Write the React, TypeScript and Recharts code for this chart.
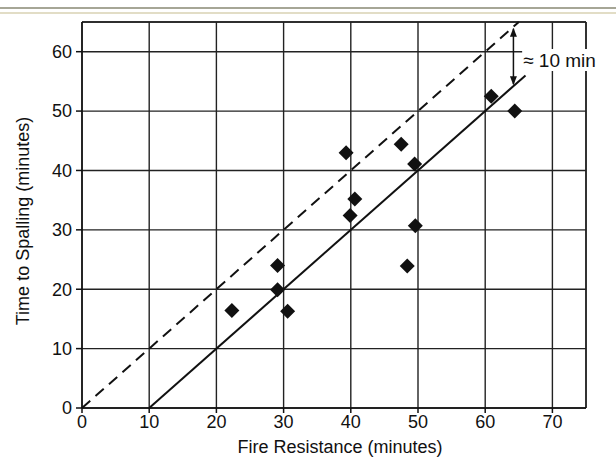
import React from 'react';
import {
  ScatterChart,
  Scatter,
  XAxis,
  YAxis,
  CartesianGrid,
  ReferenceLine,
  ReferenceDot,
} from 'recharts';

// Fire resistance (minutes) vs time to spalling (minutes)
const fireResistance = [22.3, 29.1, 29.1, 30.6, 39.3, 39.9, 40.6, 47.5, 49.5, 49.6, 48.4, 60.9, 64.4];
const timeToSpalling = [16.4, 24.0, 19.9, 16.3, 43.0, 32.4, 35.2, 44.4, 41.1, 30.7, 23.9, 52.5, 50.0];

const xTicks = [0, 10, 20, 30, 40, 50, 60, 70];
const yTicks = [0, 10, 20, 30, 40, 50, 60];
const xDomain = [0, 75];
const yDomain = [0, 65];

// reference lines: y = x (dashed) and y = x - 10 (solid)
const dashedLine = [
  { x: 0, y: 0 },
  { x: 65, y: 65 },
];
const solidLine = [
  { x: 10, y: 0 },
  { x: 66, y: 56 },
];
const arrowLine = [
  { x: 64.2, y: 64.2 },
  { x: 64.2, y: 54.2 },
];
const annotation = { x: 65.2, y: 58.6, text: '≈ 10 min' };

const xLabel = 'Fire Resistance (minutes)';
const yLabel = 'Time to Spalling (minutes)';

const points = fireResistance.map((x, i) => ({ x, y: timeToSpalling[i] }));

const FONT = '"Liberation Sans", Arial, Helvetica, sans-serif';
const INK = '#111';

const Diamond = (props: any) => {
  const { cx, cy } = props;
  const s = 7.5;
  return (
    <polygon
      points={`${cx},${cy - s} ${cx + s},${cy} ${cx},${cy + s} ${cx - s},${cy}`}
      fill={INK}
    />
  );
};

const ArrowShape = (props: any) => {
  const { x1, y1, x2, y2 } = props;
  const top = Math.min(y1, y2);
  const bot = Math.max(y1, y2);
  const x = x1;
  const h = 10;
  const w = 3.5;
  return (
    <g>
      <line x1={x} y1={top + 2} x2={x2} y2={bot - 2} stroke={INK} strokeWidth={1.5} />
      <polygon points={`${x},${top + 1} ${x - w},${top + h} ${x + w},${top + h}`} fill={INK} />
      <polygon points={`${x},${bot - 1} ${x - w},${bot - h} ${x + w},${bot - h}`} fill={INK} />
    </g>
  );
};

const AnnotationLabel = (p: any) => {
  const vb = p.viewBox || {};
  const x = vb.x + (vb.width || 0) + 3;
  const y = vb.y + (vb.height || 0) / 2;
  return (
    <g>
      <rect x={x - 1} y={y - 11} width={78} height={22} fill="#fff" />
      <text
        x={x}
        y={y}
        dominantBaseline="central"
        fontSize={19}
        fontFamily={FONT}
        fill={INK}
      >
        {annotation.text}
      </text>
    </g>
  );
};

export default function App() {
  return (
    <div style={{ position: 'absolute', left: 0, top: 0, width: 616, height: 466, background: '#fff' }}>
      <div style={{ position: 'absolute', left: 0, top: 7, width: 616, height: 2, background: '#a6a696' }} />
      <div style={{ position: 'absolute', left: 0, top: 12, width: 616, height: 2, background: '#e2ddc6' }} />
      <ScatterChart
        width={616}
        height={466}
        margin={{ top: 22, right: 30, bottom: 28, left: 0 }}
        style={{ position: 'absolute', left: 0, top: 0 }}
      >
        <CartesianGrid stroke="#222" strokeWidth={1.4} />
        <XAxis
          type="number"
          dataKey="x"
          domain={xDomain}
          ticks={xTicks}
          allowDataOverflow
          stroke={INK}
          strokeWidth={1.5}
          tickSize={5}
          tickMargin={2}
          tick={{ fontSize: 18, fontFamily: FONT, fill: INK }}
          height={30}
          label={{
            content: (p: any) => {
              const vb = p.viewBox || {};
              return (
                <text
                  x={vb.x + vb.width / 2 + 6}
                  y={vb.y + vb.height + 15}
                  textAnchor="middle"
                  fontSize={18}
                  fontFamily={FONT}
                  fill={INK}
                >
                  {xLabel}
                </text>
              );
            },
          }}
        />
        <YAxis
          type="number"
          dataKey="y"
          domain={yDomain}
          ticks={yTicks}
          allowDataOverflow
          stroke={INK}
          strokeWidth={1.5}
          tickSize={6}
          tickMargin={4}
          width={82}
          tick={{ fontSize: 18, fontFamily: FONT, fill: INK }}
          label={{
            content: (p: any) => {
              const vb = p.viewBox || {};
              const cx = vb.x + 23;
              const cy = vb.y + vb.height / 2 + 6;
              return (
                <text
                  x={cx}
                  y={cy}
                  transform={`rotate(-90, ${cx}, ${cy})`}
                  textAnchor="middle"
                  dominantBaseline="central"
                  fontSize={18}
                  fontFamily={FONT}
                  fill={INK}
                >
                  {yLabel}
                </text>
              );
            },
          }}
        />
        <ReferenceLine x={xDomain[1]} stroke="#222" strokeWidth={1.5} />
        <ReferenceLine y={yDomain[1]} stroke="#222" strokeWidth={1.5} />
        <ReferenceLine
          segment={dashedLine}
          stroke={INK}
          strokeWidth={2}
          strokeDasharray="11 7"
        />
        <ReferenceLine segment={solidLine} stroke={INK} strokeWidth={2} />
        <ReferenceLine segment={arrowLine} stroke={INK} shape={ArrowShape} />
        <ReferenceDot
          x={annotation.x}
          y={annotation.y}
          r={0}
          stroke="none"
          fill="none"
          label={{ content: AnnotationLabel }}
        />
        <Scatter data={points} shape={Diamond} isAnimationActive={false} />
      </ScatterChart>
    </div>
  );
}
